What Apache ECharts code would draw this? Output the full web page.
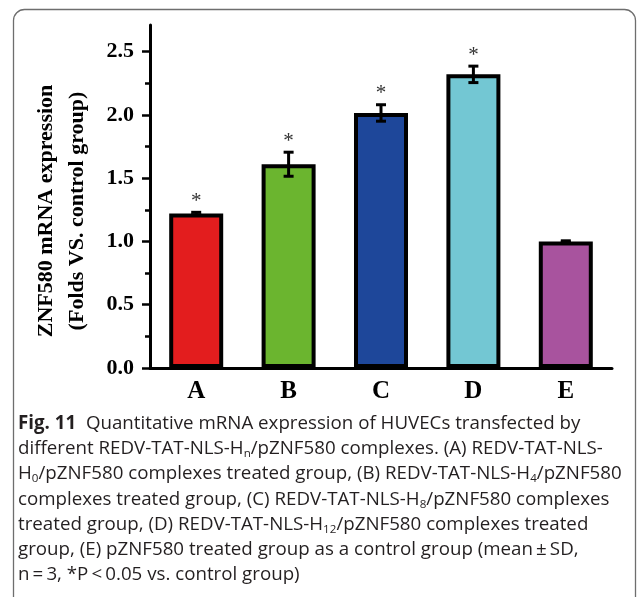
<!DOCTYPE html>
<html><head><meta charset="utf-8">
<script src="https://cdn.jsdelivr.net/npm/echarts@6/dist/echarts.min.js"></script>
<style>
html,body{margin:0;padding:0;background:#fff;}
#wrap{position:relative;width:637px;height:597px;overflow:hidden;background:#fff;}
#chart{position:absolute;left:0;top:0;width:637px;height:597px;}
#cap{position:absolute;left:18px;top:409px;font-family:'Open Sans','Noto Sans',sans-serif;font-size:16px;line-height:25.2px;color:#231f20;white-space:nowrap;}
#cap div{height:25.2px;}
#cap sub{font-size:0.62em;line-height:0;vertical-align:-0.28em;}
#cap b{font-weight:700;}
</style></head>
<body>
<div id="wrap">
<div id="chart"></div>
<div id="cap">
<div id="l1"><b>Fig. 11</b>&nbsp; Quantitative mRNA expression of HUVECs transfected by</div>
<div>different REDV-TAT-NLS-H<sub>n</sub>/pZNF580 complexes. (A) REDV-TAT-NLS-</div>
<div id="l3">H<sub>0</sub>/pZNF580 complexes treated group, (B) REDV-TAT-NLS-H<sub>4</sub>/pZNF580</div>
<div>complexes treated group, (C) REDV-TAT-NLS-H<sub>8</sub>/pZNF580 complexes</div>
<div>treated group, (D) REDV-TAT-NLS-H<sub>12</sub>/pZNF580 complexes treated</div>
<div>group, (E) pZNF580 treated group as a control group (mean&thinsp;±&thinsp;SD,</div>
<div>n&thinsp;=&thinsp;3, *P&thinsp;&lt;&thinsp;0.05 vs. control group)</div>
</div>
</div>
<script>
// ---- data ----
var categories = ['A', 'B', 'C', 'D', 'E'];
var means = [1.22, 1.61, 2.015, 2.32, 1.0];
var sds = [0.01, 0.095, 0.065, 0.065, 0.005];
var significant = [1, 1, 1, 1, 0];
var barColors = ['#E31D1E', '#6BB52F', '#1E479A', '#73C7D3', '#A8539E'];
var yMajorTicks = [0, 0.5, 1.0, 1.5, 2.0, 2.5];
var yMinorTicks = [0.25, 0.75, 1.25, 1.75, 2.25];

// fit caption width
(function(){
  var cap = document.getElementById('cap');
  var l3 = document.getElementById('l3');
  var span = document.createElement('span');
  span.innerHTML = l3.innerHTML;
  l3.innerHTML = '';
  l3.appendChild(span);
  var w = span.getBoundingClientRect().width;
  var fs = 16 * 604 / w;
  cap.style.fontSize = fs + 'px';
})();

var chart = echarts.init(document.getElementById('chart'), null, {renderer: 'canvas'});
var serif = '"Liberation Serif", "Times New Roman", serif';

var barData = means.map(function (v, i) {
  return {value: v, itemStyle: {color: barColors[i]}};
});
var errData = means.map(function (v, i) {
  return [i, v, sds[i], significant[i]];
});

var option = {
  animation: false,
  backgroundColor: 'transparent',
  grid: {left: 150, right: 25, top: 25, bottom: 229},
  xAxis: {
    type: 'category',
    data: categories,
    boundaryGap: true,
    axisLine: {show: true, lineStyle: {color: '#000', width: 3}},
    axisTick: {show: false},
    axisLabel: {color: '#000', fontFamily: serif, fontWeight: 'bold', fontSize: 25, margin: 11}
  },
  yAxis: [{
    type: 'value',
    min: 0,
    max: 2.71,
    position: 'left',
    axisLine: {show: true, lineStyle: {color: '#000', width: 3}},
    axisTick: {show: true, inside: false, length: 8, lineStyle: {color: '#000', width: 2.5}, customValues: yMajorTicks},
    axisLabel: {show: true, customValues: yMajorTicks, color: '#000', fontFamily: serif, fontWeight: 'bold', fontSize: 22, margin: 16,
      formatter: function (v) { return v.toFixed(1); }},
    splitLine: {show: false}
  }, {
    type: 'value',
    min: 0,
    max: 2.71,
    position: 'left',
    offset: 0,
    axisLine: {show: false},
    axisTick: {show: true, inside: false, length: 5, lineStyle: {color: '#000', width: 2.5}, customValues: yMinorTicks},
    axisLabel: {show: false},
    splitLine: {show: false}
  }],
  graphic: [{
    type: 'rect',
    z: -10,
    shape: {x: 13.5, y: 9.5, width: 622, height: 640, r: 11},
    style: {fill: 'none', stroke: '#6e6e6e', lineWidth: 1.3}
  }, {
    type: 'text',
    x: 62,
    y: 211,
    rotation: Math.PI / 2,
    style: {
      text: 'ZNF580 mRNA expression\n(Folds VS. control group)',
      fontFamily: serif, fontWeight: 'bold', fontSize: 22, lineHeight: 31,
      fill: '#000', align: 'center', verticalAlign: 'middle', textAlign: 'center', textVerticalAlign: 'middle'
    }
  }],
  series: [{
    type: 'bar',
    data: barData,
    barWidth: 54,
    itemStyle: {borderColor: '#000', borderWidth: 4},
    z: 2
  }, {
    type: 'custom',
    data: errData,
    z: 5,
    encode: {x: 0, y: 1},
    renderItem: function (params, api) {
      var i = api.value(0), m = api.value(1), s = api.value(2), sig = api.value(3);
      var top = api.coord([i, m + s]);
      var bot = api.coord([i, m - s]);
      var x = top[0], hw = 5;
      var st = {stroke: '#000', lineWidth: 3};
      var children = [
        {type: 'line', shape: {x1: x, y1: top[1], x2: x, y2: bot[1]}, style: st},
        {type: 'line', shape: {x1: x - hw, y1: top[1], x2: x + hw, y2: top[1]}, style: st},
        {type: 'line', shape: {x1: x - hw, y1: bot[1], x2: x + hw, y2: bot[1]}, style: st}
      ];
      if (sig) {
        children.push({type: 'text', style: {
          text: '*', x: x, y: top[1] - 11,
          fontFamily: serif, fontSize: 21, fill: '#333',
          align: 'center', verticalAlign: 'middle', textAlign: 'center', textVerticalAlign: 'middle'
        }});
      }
      return {type: 'group', children: children};
    }
  }]
};
chart.setOption(option);
</script>
</body></html>
